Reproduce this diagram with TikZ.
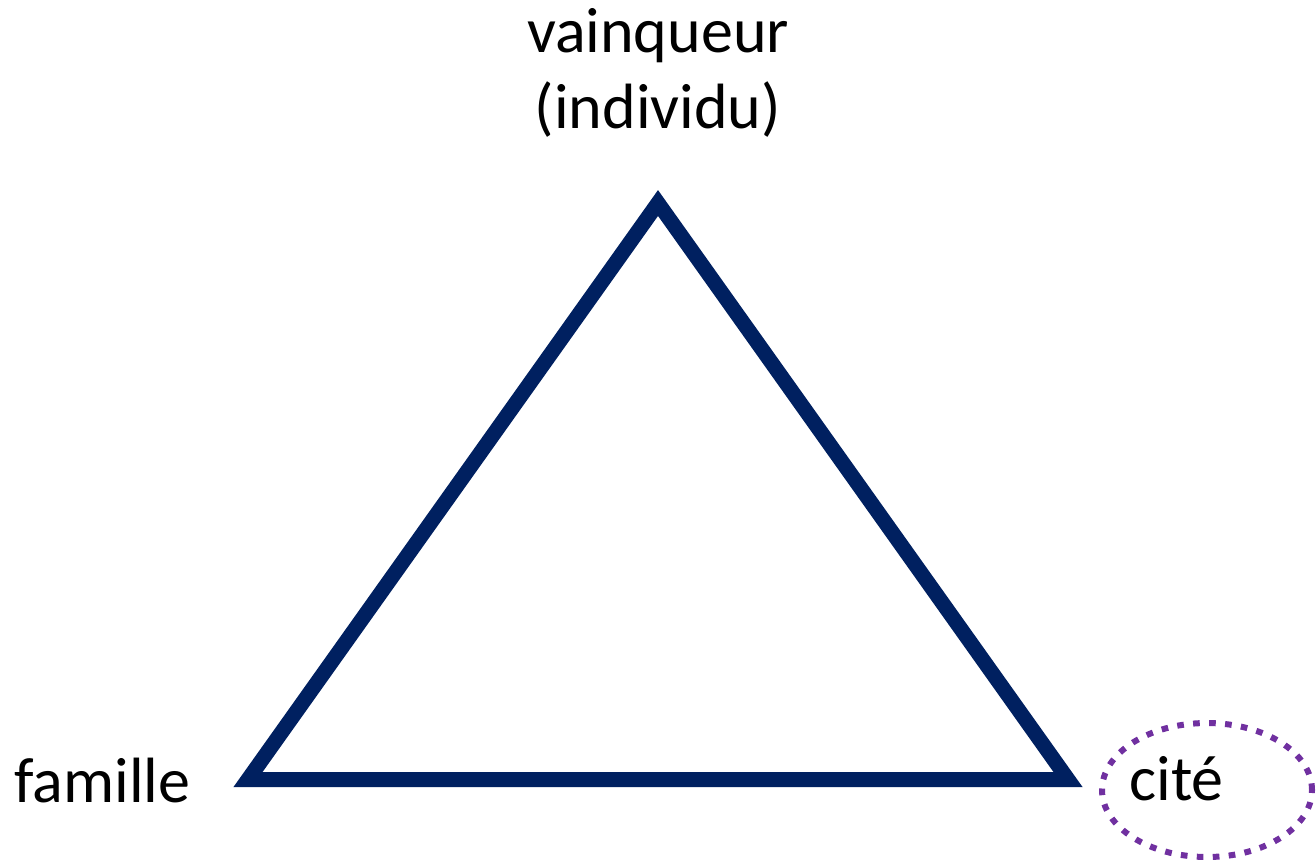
\documentclass[tikz,border=0pt]{standalone}
\usepackage{fontspec}
\setmainfont{Carlito}
\usepackage{tikz}
\usetikzlibrary{shapes.geometric}
\definecolor{TriNavy}{HTML}{002060}
\definecolor{CitePurple}{HTML}{7030A0}

\begin{document}
\begin{tikzpicture}[x=0.75pt, y=-0.75pt,
    every node/.style={font=\fontsize{48}{57}\selectfont, inner sep=0pt},
    side/.style={draw=TriNavy, line width=11.25pt, line join=miter}]
  \useasboundingbox (0,0) rectangle (1316,861);
  % corners of the triangle
  \coordinate (apex) at (658,203);
  \coordinate (lcorner) at (248,779.5);
  \coordinate (rcorner) at (1068,779.5);
  \draw[side] (apex) -- (rcorner) -- (lcorner) -- cycle;
  % labels
  \node[anchor=base, align=center] (winner) at (658,128) {vainqueur\\(individu)};
  \node[anchor=base west] (family) at (14,802) {famille};
  \node[anchor=base west] (city) at (1129,800) {cité};
  % dotted ring round the city
  \node[ellipse, draw=CitePurple, line width=4.5pt, dash pattern=on 5pt off 7pt,
    minimum width=157.5pt, minimum height=100.5pt] (cityring) at (1207,790) {};
\end{tikzpicture}
\end{document}
